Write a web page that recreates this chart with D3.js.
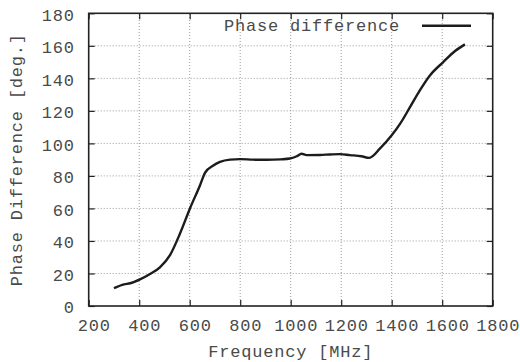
<!DOCTYPE html>
<html>
<head>
<meta charset="utf-8">
<script src="https://cdn.jsdelivr.net/npm/d3@7"></script>
<style>
  html, body { margin: 0; padding: 0; background: #fff; }
  svg { display: block; }
  text { font-family: "Liberation Mono", "DejaVu Sans Mono", monospace; fill: #4a4a4a; }
</style>
</head>
<body>
<svg id="chart" width="520" height="362"></svg>
<script>
const freq = [300, 340, 364, 403, 443, 482, 522, 562, 601, 641, 661, 692, 720, 760, 800, 850, 905, 960, 997, 1024, 1043, 1063, 1116, 1156, 1195, 1235, 1280, 1311, 1354, 1400, 1433, 1473, 1512, 1552, 1604, 1651, 1690];
const phase = [11, 13.3, 14, 16.4, 19.7, 23.8, 31.3, 44.7, 60, 74.3, 82, 86.2, 88.6, 90.0, 90.3, 90.0, 89.9, 90.2, 90.7, 92.1, 93.6, 92.8, 92.9, 93.2, 93.4, 92.8, 92.1, 91.1, 96.9, 105, 112, 122.4, 132.7, 141.9, 150, 156.8, 160.9];
const xTicks = [200, 400, 600, 800, 1000, 1200, 1400, 1600, 1800];
const yTicks = [0, 20, 40, 60, 80, 100, 120, 140, 160, 180];
const seriesName = "Phase difference";
const xTitle = "Frequency [MHz]";
const yTitle = "Phase Difference [deg.]";

const svg = d3.select("#chart");
const L = 88.7, R = 492.7, T = 13.3, B = 306;
const x = d3.scaleLinear().domain([200, 1800]).range([L, R]);
const y = d3.scaleLinear().domain([0, 180]).range([B, T]);

// grid
const grid = svg.append("g").attr("stroke", "#9a9a9a").attr("stroke-width", 1).attr("stroke-dasharray", "1,2");
xTicks.slice(1, -1).forEach(t => grid.append("line").attr("x1", x(t)).attr("x2", x(t)).attr("y1", B).attr("y2", T));
yTicks.slice(1, -1).forEach(t => grid.append("line").attr("y1", y(t)).attr("y2", y(t)).attr("x1", L).attr("x2", R));

// axes with inward ticks (mirrored)
const fs = "17px", ls = "0.8px";
const xAxisB = d3.axisBottom(x).tickValues(xTicks).tickSize(-6).tickPadding(13).tickFormat(d3.format("d"));
const xAxisT = d3.axisTop(x).tickValues(xTicks).tickSize(-6).tickFormat("");
const yAxisL = d3.axisLeft(y).tickValues(yTicks).tickSize(-6).tickPadding(14).tickFormat(d3.format("d"));
const yAxisR = d3.axisRight(y).tickValues(yTicks).tickSize(-6).tickFormat("");

function style(g) {
  g.select(".domain").remove();
  g.selectAll(".tick line").attr("stroke", "#222").attr("stroke-width", 1.2);
  g.selectAll(".tick text").style("font-family", '"Liberation Mono", monospace').style("font-size", fs).style("letter-spacing", ls).attr("fill", "#4a4a4a");
}
const gB = svg.append("g").attr("transform", `translate(0,${B})`).call(xAxisB).call(style);
gB.selectAll(".tick text").attr("dx", 5);
svg.append("g").attr("transform", `translate(0,${T})`).call(xAxisT).call(style);
const gL = svg.append("g").attr("transform", `translate(${L},0)`).call(yAxisL).call(style);
gL.selectAll(".tick text").attr("dy", "0.4em");
svg.append("g").attr("transform", `translate(${R},0)`).call(yAxisR).call(style);

// frame
svg.append("rect").attr("x", L).attr("y", T).attr("width", R - L).attr("height", B - T)
  .attr("fill", "none").attr("stroke", "#222").attr("stroke-width", 1.6);

// curve
const data = freq.map((f, i) => ({f, v: phase[i]}));
const line = d3.line().x(d => x(d.f)).y(d => y(d.v)).curve(d3.curveMonotoneX);
svg.append("path").datum(data).attr("d", line).attr("fill", "none")
  .attr("stroke", "#1c1c1c").attr("stroke-width", 2.4).attr("stroke-linejoin", "round");

// legend
svg.append("text").attr("x", 400).attr("y", 31).attr("text-anchor", "end")
  .style("font-size", fs).style("letter-spacing", ls).text(seriesName);
svg.append("line").attr("x1", 422).attr("x2", 471).attr("y1", 25.7).attr("y2", 25.7)
  .attr("stroke", "#1c1c1c").attr("stroke-width", 2.4);

// axis titles
svg.append("text").attr("x", (L + R) / 2).attr("y", 357).attr("text-anchor", "middle")
  .style("font-size", fs).style("letter-spacing", ls).text(xTitle);
svg.append("text").attr("transform", `translate(22,${(T + B) / 2}) rotate(-90)`).attr("text-anchor", "middle")
  .style("font-size", fs).style("letter-spacing", ls).text(yTitle);
</script>
</body>
</html>
